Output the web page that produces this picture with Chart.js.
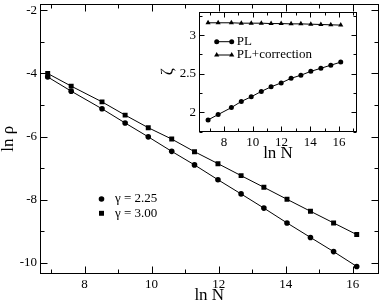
<!DOCTYPE html>
<html>
<head>
<meta charset="utf-8">
<script src="https://cdn.jsdelivr.net/npm/chart.js@4.4.0/dist/chart.umd.min.js"></script>
<style>
  body { margin: 0; background: #fff; }
  #wrap { position: relative; width: 382px; height: 303px; overflow: hidden; }
  #main { position: absolute; left: 0; top: 0; }
  #inset { position: absolute; left: 155px; top: 0; }
</style>
</head>
<body>
<div id="wrap">
  <canvas id="main" width="382" height="303"></canvas>
  <canvas id="inset" width="205" height="162"></canvas>
</div>
<script>
// ln N for each system size (shared by both panels)
const lnN = [6.9, 7.6, 8.52, 9.21, 9.9, 10.6, 11.28, 11.98, 12.67, 13.35, 14.04, 14.74, 15.43, 16.12];

// main panel: ln rho
const rhoGamma225 = [-4.11, -4.56, -5.12, -5.57, -6.01, -6.47, -6.90, -7.37, -7.82, -8.27, -8.74, -9.20, -9.65, -10.12];
const rhoGamma300 = [-4.00, -4.40, -4.90, -5.32, -5.72, -6.08, -6.48, -6.86, -7.24, -7.61, -7.99, -8.37, -8.74, -9.11];
const mainLabels = ['\u03b3 = 2.25', '\u03b3 = 3.00'];

// inset: zeta
const zetaPL = [1.90, 1.97, 2.06, 2.14, 2.20, 2.27, 2.33, 2.38, 2.44, 2.48, 2.53, 2.57, 2.61, 2.65];
const zetaCorr = [3.16, 3.16, 3.16, 3.155, 3.155, 3.155, 3.15, 3.15, 3.146, 3.146, 3.142, 3.138, 3.134, 3.13];
const insetLabels = ['PL', 'PL+correction'];

const SERIF = "'Liberation Serif', 'DejaVu Serif', serif";
const pts = (ys) => lnN.map((x, i) => ({ x: x, y: ys[i] }));

// closed frame with inward major/minor ticks on all four sides
const frameTicks = {
  id: 'frameTicks',
  afterDatasetsDraw(chart, args, o) {
    const { ctx, chartArea: a } = chart;
    const L = Math.round(a.left) + 0.5, R = Math.round(a.right) - 0.5;
    const T = Math.round(a.top) + 0.5, B = Math.round(a.bottom) - 0.5;
    ctx.save();
    ctx.strokeStyle = '#000';
    ctx.lineWidth = 1;
    ctx.strokeRect(L, T, R - L, B - T);
    ctx.beginPath();
    ['x', 'y'].forEach(id => {
      const s = chart.scales[id];
      const vals = s.ticks.map(t => t.value);
      const step = vals[1] - vals[0];
      const marks = [];
      vals.forEach(v => marks.push([v, o.major]));
      for (let v = vals[0] - step / 2; v <= s.max; v += step) {
        if (v >= s.min) marks.push([v, o.minor]);
      }
      marks.forEach(([v, len]) => {
        const p = Math.round(s.getPixelForValue(v)) + 0.5;
        if (id === 'x') {
          ctx.moveTo(p, B); ctx.lineTo(p, B - len);
          ctx.moveTo(p, T); ctx.lineTo(p, T + len);
        } else {
          ctx.moveTo(L, p); ctx.lineTo(L + len, p);
          ctx.moveTo(R, p); ctx.lineTo(R - len, p);
        }
      });
    });
    ctx.stroke();
    ctx.restore();
  }
};

// legend placed freely inside the plot area
const floatLegend = {
  id: 'floatLegend',
  afterDraw(chart, args, o) {
    const ctx = chart.ctx;
    ctx.save();
    ctx.fillStyle = '#000';
    ctx.strokeStyle = '#000';
    ctx.lineWidth = 1;
    ctx.font = o.size + 'px ' + SERIF;
    ctx.textBaseline = 'middle';
    chart.data.datasets.forEach((ds, i) => {
      const y = o.y + i * o.rowH;
      const style = { pointStyle: ds.pointStyle, radius: ds.pointRadius, rotation: 0, borderWidth: 0 };
      if (o.lineLen) {
        ctx.beginPath();
        ctx.moveTo(o.x, y); ctx.lineTo(o.x + o.lineLen, y);
        ctx.stroke();
        Chart.helpers.drawPoint(ctx, style, o.x, y);
        Chart.helpers.drawPoint(ctx, style, o.x + o.lineLen, y);
      } else {
        Chart.helpers.drawPoint(ctx, style, o.x, y);
      }
      ctx.fillText(ds.label, o.textX, y);
    });
    ctx.restore();
  }
};

function series(label, data, style, r) {
  return {
    label: label, data: data,
    borderColor: '#000', borderWidth: 1,
    pointStyle: style, pointRadius: r, pointHoverRadius: r,
    pointBackgroundColor: '#000', pointBorderColor: '#000', pointBorderWidth: 0
  };
}

function axis(min, max, step, size, fitKey, fitVal, title, titleSize, titleLH, titlePad) {
  return {
    type: 'linear', min: min, max: max,
    afterFit: s => {
      s[fitKey] = fitVal;
      // keep the plot edges where the frame should be, not where label halves want them
      s.paddingTop = 0; s.paddingBottom = 0; s.paddingLeft = 0; s.paddingRight = 0;
    },
    grid: { display: false, drawTicks: false },
    border: { display: false },
    ticks: {
      stepSize: step, includeBounds: false, padding: 3, autoSkip: false, maxRotation: 0,
      color: '#000', font: { family: SERIF, size: size },
      callback: v => String(v)
    },
    title: {
      display: true, text: title, color: '#000',
      font: { family: SERIF, size: titleSize, lineHeight: titleLH },
      padding: titlePad
    }
  };
}

new Chart(document.getElementById('main'), {
  type: 'line',
  data: {
    datasets: [
      series(mainLabels[0], pts(rhoGamma225), 'circle', 2.8),
      series(mainLabels[1], pts(rhoGamma300), 'rect', 3.5)
    ]
  },
  options: {
    responsive: false, animation: false, devicePixelRatio: 1,
    layout: { padding: { top: 2, right: 1, left: 0, bottom: 0 } },
    plugins: {
      legend: { display: false }, tooltip: { enabled: false },
      frameTicks: { major: 7, minor: 4 },
      floatLegend: { x: 101.5, y: 199, rowH: 14.3, textX: 115, size: 13 }
    },
    scales: {
      x: axis(6.67, 16.77, 2, 13, 'height', 29, 'ln N', 17, 0.85, { top: 0, bottom: 0 }),
      y: axis(-10.36, -1.78, 2, 13, 'width', 40, 'ln \u03c1', 17, 1, { top: 0, bottom: 0 })
    }
  },
  plugins: [frameTicks, floatLegend]
});

new Chart(document.getElementById('inset'), {
  type: 'line',
  data: {
    datasets: [
      series(insetLabels[0], pts(zetaPL), 'circle', 2.5),
      series(insetLabels[1], pts(zetaCorr), 'triangle', 3)
    ]
  },
  options: {
    responsive: false, animation: false, devicePixelRatio: 1,
    layout: { padding: { top: 12, right: 2.7, left: 0, bottom: 0 } },
    plugins: {
      legend: { display: false }, tooltip: { enabled: false },
      frameTicks: { major: 5, minor: 3 },
      floatLegend: { x: 61.7, y: 41.7, rowH: 13.3, lineLen: 15, textX: 81.7, size: 13 }
    },
    scales: {
      x: axis(6.27, 17.25, 2, 13, 'height', 30.5, 'ln N', 17, 1, { top: 0, bottom: 0 }),
      y: axis(1.75, 3.3, 0.5, 13, 'width', 44, '\u03b6', 17, 1, { top: 4, bottom: 0 })
    }
  },
  plugins: [frameTicks, floatLegend]
});
</script>
</body>
</html>
